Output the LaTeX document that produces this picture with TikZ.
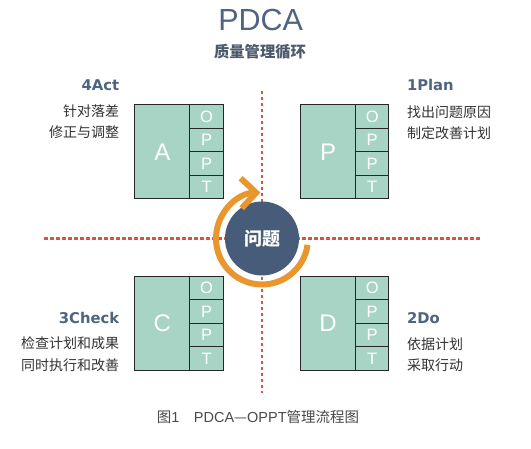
\documentclass[tikz,border=0pt]{standalone}
\usepackage{fontspec}
\setmainfont{Liberation Sans}
\newfontfamily\cjk{Noto Sans CJK SC}
\newfontfamily\labelfont{DejaVu Sans}
\usetikzlibrary{positioning,arrows.meta}

\definecolor{boxgreen}{HTML}{A8D4C5}
\definecolor{hubblue}{HTML}{465C78}
\definecolor{titleblue}{HTML}{4E6482}
\definecolor{subgray}{HTML}{4C5A6C}
\definecolor{axisred}{HTML}{D9553F}
\definecolor{ringorange}{HTML}{E9962E}
\definecolor{notegray}{HTML}{333333}
\definecolor{captiongray}{HTML}{4A4A4A}

\tikzstyle{main}=[shape=rectangle,
                  draw=black!85,
                  fill=boxgreen,
                  minimum width=55pt,
                  minimum height=94pt,
                  inner sep=0pt, outer sep=0pt,
                  line width=1.1pt,
                  text=white,
                  font=\fontsize{24}{24}\selectfont,
                  anchor=north west]
\tikzstyle{sub}=[shape=rectangle,
                 draw=black!85,
                 fill=boxgreen,
                 minimum width=33.3pt,
                 minimum height=23.5pt,
                 inner sep=0pt, outer sep=0pt,
                 line width=1.1pt,
                 text=white,
                 font=\fontsize{16.5}{16.5}\selectfont]
\tikzstyle{head}=[inner sep=0pt,
                  text=titleblue,
                  font=\labelfont\bfseries\fontsize{14.8}{14.8}\selectfont]
\tikzstyle{note}=[inner sep=0pt,
                  text=notegray,
                  font=\cjk\fontsize{14}{14}\selectfont]
\tikzstyle{axis}=[draw=axisred,
                  line width=2.2pt,
                  dash pattern=on 3.5pt off 2.5pt]

\begin{document}
\begin{tikzpicture}[x=1pt,y=-1pt,semithick]
\path[use as bounding box,fill=white] (0,0) rectangle (531,449);

% title
\node[inner sep=0pt,anchor=base,text=titleblue,font=\fontsize{30.5}{30.5}\selectfont] (title) at (260.7,31) {PDCA};
\node[inner sep=0pt,anchor=base,text=subgray,font=\cjk\bfseries\fontsize{15.3}{15.3}\selectfont] (subtitle) at (260,57.5) {质量管理循环};

% dashed axes
\draw[axis] (262,90.7) -- (262,393.3);
\draw[axis] (44,238.5) -- (481,238.5);

% act box (top left)
\node[main] (A) at (134.9,104.8) {A};
\node[sub] (a1) [anchor=north west] at (A.north east) {O};
\node[sub] (a2) [below=0pt of a1] {P};
\node[sub] (a3) [below=0pt of a2] {P};
\node[sub] (a4) [below=0pt of a3] {T};

% plan box (top right)
\node[main] (P) at (300.6,104.8) {P};
\node[sub] (p1) [anchor=north west] at (P.north east) {O};
\node[sub] (p2) [below=0pt of p1] {P};
\node[sub] (p3) [below=0pt of p2] {P};
\node[sub] (p4) [below=0pt of p3] {T};

% check box (bottom left)
\node[main] (C) at (134.9,276.3) {C};
\node[sub] (c1) [anchor=north west] at (C.north east) {O};
\node[sub] (c2) [below=0pt of c1] {P};
\node[sub] (c3) [below=0pt of c2] {P};
\node[sub] (c4) [below=0pt of c3] {T};

% do box (bottom right)
\node[main] (D) at (300.6,276.3) {D};
\node[sub] (d1) [anchor=north west] at (D.north east) {O};
\node[sub] (d2) [below=0pt of d1] {P};
\node[sub] (d3) [below=0pt of d2] {P};
\node[sub] (d4) [below=0pt of d3] {T};

% step labels
\node[head,anchor=base east] (acthead) at (119.5,90.7) {4Act};
\node[note,anchor=base east] (act1) at (119.5,117) {针对落差};
\node[note,anchor=base east] (act2) at (119.5,138) {修正与调整};

\node[head,anchor=base west] (planhead) at (406.7,90.7) {1Plan};
\node[note,anchor=base west] (plan1) at (406.7,117.5) {找出问题原因};
\node[note,anchor=base west] (plan2) at (406.7,138.5) {制定改善计划};

\node[head,anchor=base east] (checkhead) at (119.5,323.3) {3Check};
\node[note,anchor=base east] (check1) at (119.5,349) {检查计划和成果};
\node[note,anchor=base east] (check2) at (119.5,370.5) {同时执行和改善};

\node[head,anchor=base west] (dohead) at (406.7,323.3) {2Do};
\node[note,anchor=base west] (do1) at (406.7,349.3) {依据计划};
\node[note,anchor=base west] (do2) at (406.7,371) {采取行动};

% problem hub with cycle arrow
\node[circle,fill=hubblue,minimum size=74pt,inner sep=0pt,text=white,
      font=\cjk\bfseries\fontsize{18}{18}\selectfont] (hub) at (262,238.5) {问题};
\draw[ringorange,line width=6pt,-{Straight Barb[length=15pt,width=30pt]}]
      (hub.center) ++(8:46) arc[start angle=8,end angle=268,radius=46];

% caption
\node[inner sep=0pt,anchor=base,text=captiongray,font=\fontsize{14.5}{14.5}\selectfont] (caption) at (258,422.8)
      {{\cjk 图}1{\cjk 　}PDCA{\cjk —}OPPT{\cjk 管理流程图}};
\end{tikzpicture}
\end{document}
